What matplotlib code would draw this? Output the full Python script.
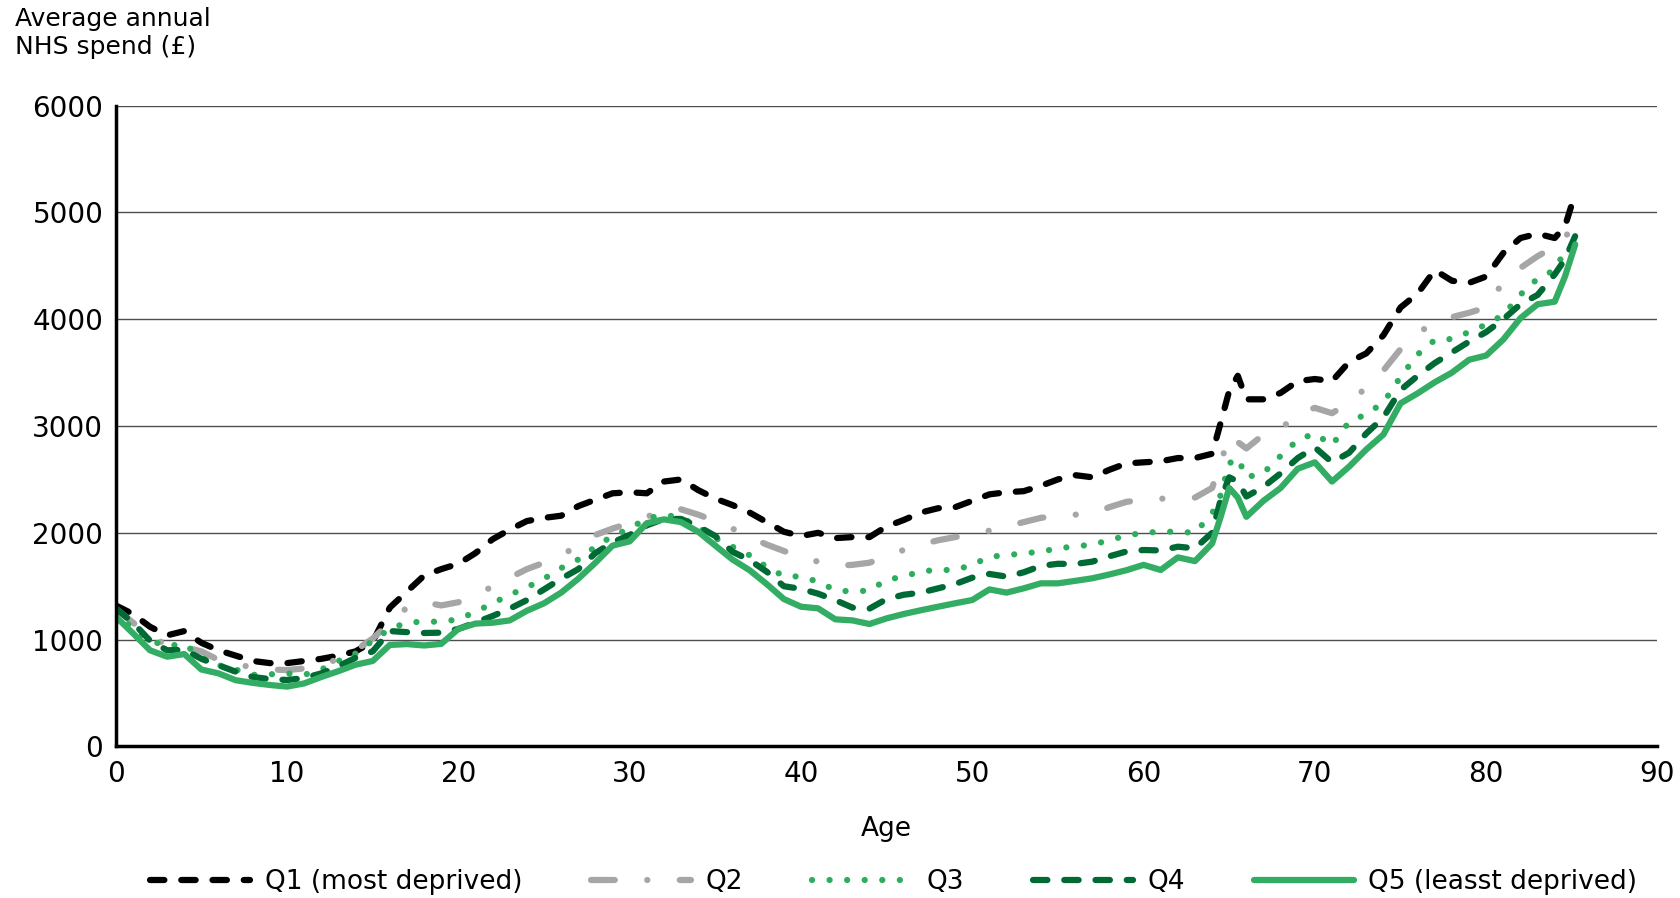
import matplotlib.pyplot as plt

plt.rcParams['font.family'] = ['DejaVu Sans']

age = list(range(0, 65)) + [64.5, 65, 65.5] + list(range(66, 85)) + [84.6, 85.2]

q1 = [1320, 1240, 1120, 1040, 1080, 970, 900, 850, 800, 780,
      780, 800, 820, 850, 890, 980, 1300, 1450, 1600, 1660,
      1710, 1810, 1940, 2030, 2110, 2140, 2160, 2250, 2310, 2370,
      2380, 2370, 2480, 2500, 2400, 2320, 2260, 2190, 2100, 2010,
      1970, 2000, 1950, 1960, 1960, 2060, 2120, 2190, 2230, 2240,
      2300, 2360, 2380, 2390, 2440, 2500, 2540, 2520, 2590, 2650,
      2660, 2670, 2700, 2700, 2740, 3030, 3330, 3470,
      3250, 3250, 3310, 3420, 3440, 3420, 3600, 3680, 3850, 4110,
      4240, 4460, 4360, 4340, 4400, 4620, 4760, 4800, 4760, 4870, 5180]
q2 = [1290, 1160, 1030, 950, 930, 890, 810, 770, 740, 720,
      715, 730, 760, 820, 900, 1010, 1160, 1300, 1350, 1320,
      1350, 1410, 1500, 1580, 1660, 1720, 1790, 1880, 1980, 2040,
      2090, 2150, 2210, 2220, 2170, 2110, 2040, 1960, 1890, 1830,
      1770, 1730, 1690, 1700, 1720, 1780, 1840, 1890, 1930, 1960,
      1990, 2020, 2060, 2100, 2140, 2160, 2170, 2180, 2240, 2290,
      2310, 2320, 2320, 2330, 2420, 2650, 2920, 2850,
      2790, 2920, 2970, 3120, 3170, 3120, 3220, 3360, 3520, 3720,
      3870, 3970, 4020, 4060, 4110, 4350, 4480, 4590, 4680, 4740, 5000]
q3 = [1260, 1100, 990, 940, 960, 830, 760, 720, 670, 675,
      684, 670, 720, 800, 870, 990, 1100, 1160, 1168, 1168,
      1190, 1260, 1340, 1420, 1490, 1570, 1670, 1750, 1870, 1970,
      2040, 2136, 2167, 2145, 2050, 1950, 1870, 1790, 1680, 1595,
      1590, 1542, 1464, 1449, 1460, 1560, 1590, 1640, 1652, 1652,
      1700, 1776, 1790, 1808, 1823, 1855, 1872, 1890, 1930, 1975,
      2000, 2010, 2010, 2000, 2180, 2354, 2650, 2700,
      2520, 2560, 2720, 2870, 2930, 2820, 3040, 3110, 3220, 3460,
      3670, 3805, 3815, 3880, 3950, 4040, 4230, 4380, 4460, 4640, 4720]
q4 = [1290, 1160, 990, 900, 905, 820, 760, 700, 650, 630,
      622, 640, 684, 750, 830, 890, 1080, 1070, 1062, 1065,
      1100, 1160, 1221, 1290, 1370, 1470, 1570, 1660, 1810, 1910,
      1980, 2070, 2130, 2130, 2060, 1970, 1823, 1745, 1636, 1500,
      1475, 1430, 1370, 1300, 1290, 1380, 1420, 1440, 1480, 1520,
      1580, 1615, 1590, 1630, 1690, 1710, 1708, 1730, 1780, 1825,
      1839, 1835, 1870, 1855, 2000, 2310, 2520, 2480,
      2340, 2430, 2557, 2700, 2800, 2660, 2750, 2930, 3080, 3337,
      3470, 3590, 3690, 3790, 3880, 4000, 4140, 4227, 4420, 4560, 4780]
q5 = [1215, 1060, 900, 840, 865, 720, 684, 620, 595, 575,
      560, 590, 650, 705, 765, 800, 950, 958, 945, 960,
      1100, 1150, 1158, 1180, 1270, 1340, 1440, 1570, 1720, 1880,
      1920, 2090, 2126, 2100, 2010, 1880, 1750, 1650, 1520, 1380,
      1308, 1293, 1190, 1180, 1146, 1199, 1240, 1275, 1308, 1340,
      1371, 1470, 1440, 1480, 1527, 1527, 1550, 1574, 1610, 1650,
      1700, 1652, 1770, 1735, 1900, 2150, 2420, 2330,
      2150, 2300, 2420, 2600, 2660, 2480, 2620, 2780, 2920, 3212,
      3306, 3410, 3500, 3620, 3660, 3810, 4010, 4140, 4164, 4400, 4700]

labels = ['Q1 (most deprived)', 'Q2', 'Q3', 'Q4', 'Q5 (leasst deprived)']

fig = plt.figure(figsize=(16.8, 8.98), dpi=100)
ax = fig.add_axes([0.0689, 0.1688, 0.9177, 0.7136])

lw = 4.5
ax.plot(age, q1, color='black', lw=lw, dashes=(2.3, 2.7), dash_capstyle='round',
        solid_joinstyle='round', label=labels[0])
ax.plot(age, q2, color='#a6a6a6', lw=lw, dashes=(3.8, 5.2, 0.01, 5.2), dash_capstyle='round',
        label=labels[1])
ax.plot(age, q3, color='#2ead5f', lw=lw, dashes=(0.01, 2.8), dash_capstyle='round',
        label=labels[2])
ax.plot(age, q4, color='#006a35', lw=lw, dashes=(2.3, 2.7), dash_capstyle='round',
        label=labels[3])
ax.plot(age, q5, color='#33ad63', lw=lw, solid_capstyle='round', solid_joinstyle='round',
        label=labels[4])

ax.set_xlim(0, 90)
ax.set_ylim(0, 6000)
ax.set_xticks(range(0, 91, 10))
ax.set_yticks(range(0, 6001, 1000))
ax.yaxis.grid(True, color='#4d4d4d', lw=1.0)
ax.set_axisbelow(True)
for s in ['top', 'right']:
    ax.spines[s].set_visible(False)
ax.spines['left'].set_linewidth(2.5)
ax.spines['bottom'].set_linewidth(2.5)
ax.tick_params(length=0, labelsize=20, colors='black')
ax.tick_params(axis='y', pad=9)
ax.tick_params(axis='x', pad=10)
ax.set_xlabel('Age', fontsize=19, labelpad=20)

fig.text(0.009, 0.992, 'Average annual\nNHS spend (£)', fontsize=18, va='top', ha='left',
         linespacing=1.2)

fig.legend(loc='lower center', bbox_to_anchor=(0.532, 0.0), ncol=5, frameon=False,
           fontsize=19, handlelength=3.8, handletextpad=0.55, columnspacing=2.6,
           borderpad=0.1, borderaxespad=0.0)

fig.savefig('out.png', dpi=100)
